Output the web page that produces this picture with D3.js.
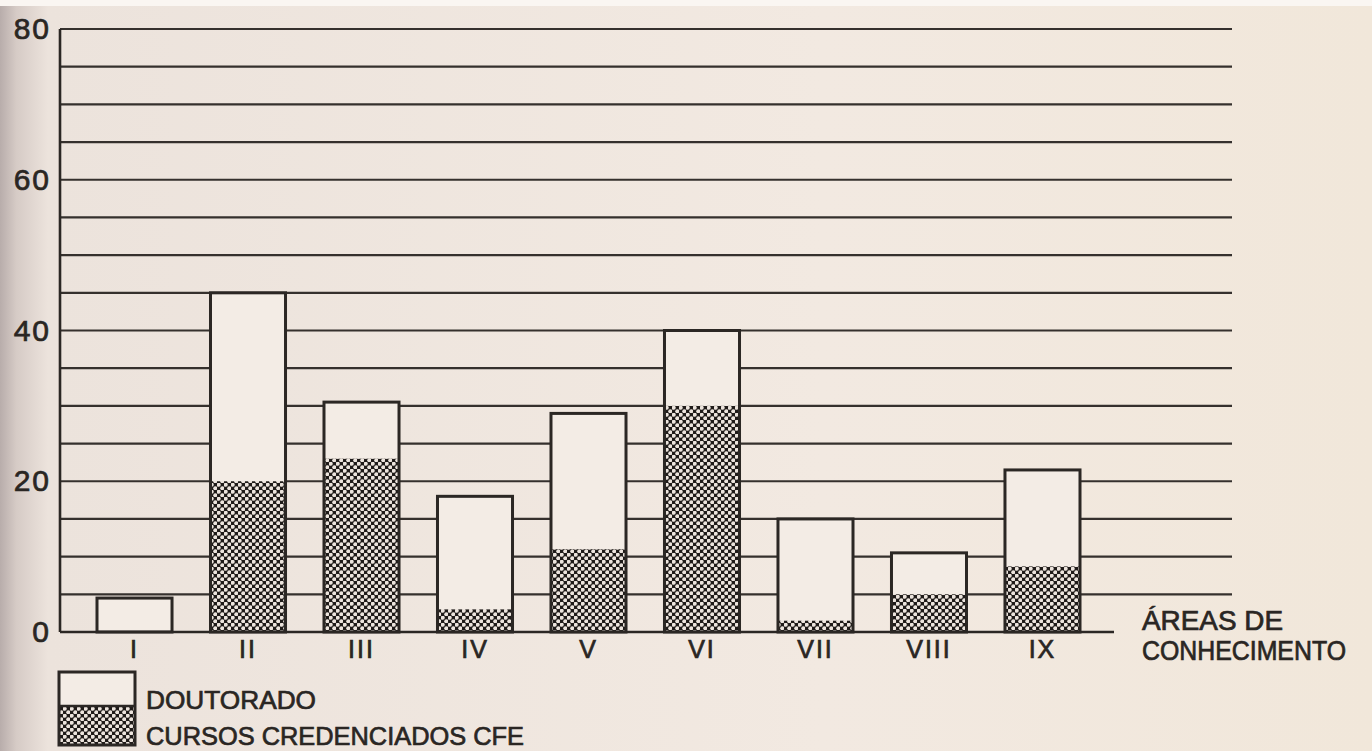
<!DOCTYPE html>
<html><head><meta charset="utf-8">
<script src="https://cdn.jsdelivr.net/npm/d3@7"></script>
<style>
html,body{margin:0;padding:0;background:#f1e8df;}
svg{display:block;}
text{font-family:"Liberation Sans",Arial,sans-serif;fill:#2a2623;stroke:#2a2623;stroke-width:0.7px;}
</style></head>
<body>
<svg id="chart" width="1372" height="751"></svg>
<script>
// ---- data ----
const categories = ["I","II","III","IV","V","VI","VII","VIII","IX"];
const doutorado = [4.5, 45, 30.5, 18, 29, 40, 15, 10.5, 21.5];
const credenciados = [0, 20, 23, 3, 11, 30, 1.5, 5, 8.7];
const yTickLabels = [0, 20, 40, 60, 80];
const gridValues = d3.range(5, 85, 5);
const legendLabels = ["DOUTORADO", "CURSOS CREDENCIADOS CFE"];
const axisTitle = ["ÁREAS DE", "CONHECIMENTO"];

const svg = d3.select("#chart");
const W = 1372, H = 751;
const ink = "#2b2724";

// paper background with left shadow
const defs = svg.append("defs");
const g1 = defs.append("linearGradient").attr("id","shade").attr("x1","0").attr("x2","1").attr("y1","0").attr("y2","0");
g1.append("stop").attr("offset","0").attr("stop-color","#b8adab");
g1.append("stop").attr("offset","0.012").attr("stop-color","#d6cbc6");
g1.append("stop").attr("offset","0.035").attr("stop-color","#ece3dc");
g1.append("stop").attr("offset","0.6").attr("stop-color","#f2e9e1");
g1.append("stop").attr("offset","1").attr("stop-color","#f1e7da");
svg.append("rect").attr("width",W).attr("height",H).attr("fill","url(#shade)");
svg.append("rect").attr("width",W).attr("height",6).attr("fill","#faf6f2");

// halftone pattern: white dots on black
const P = 7;
const pat = defs.append("pattern").attr("id","dots").attr("patternUnits","userSpaceOnUse")
  .attr("width",P).attr("height",P);
pat.append("rect").attr("width",P).attr("height",P).attr("fill","#1f1b19");
pat.append("circle").attr("cx",P/4).attr("cy",P/4).attr("r",2.0).attr("fill","#ece4dd");
pat.append("circle").attr("cx",3*P/4).attr("cy",3*P/4).attr("r",2.0).attr("fill","#ece4dd");

// scales
const x0 = 60;
const x = d3.scaleBand().domain(categories).range([x0, 1117]).paddingInner(0.339).paddingOuter(0.326);
const y = d3.scaleLinear().domain([0, 80]).range([632, 29]);

// gridlines
svg.append("g").selectAll("line").data(gridValues).join("line")
  .attr("x1", x0).attr("x2", 1232)
  .attr("y1", d => y(d)).attr("y2", d => y(d))
  .attr("stroke", "#35302d").attr("stroke-width", 2.2);

// bars: total (doutorado) white with outline, credenciados patterned
const bars = svg.append("g");
bars.selectAll("rect.tot").data(categories).join("rect").attr("class","tot")
  .attr("x", d => x(d)).attr("width", x.bandwidth())
  .attr("y", (d,i) => y(doutorado[i])).attr("height", (d,i) => y(0) - y(doutorado[i]))
  .attr("fill", "#f3ece5");
bars.selectAll("rect.cred").data(categories).join("rect").attr("class","cred")
  .attr("x", d => x(d)).attr("width", x.bandwidth())
  .attr("y", (d,i) => y(credenciados[i])).attr("height", (d,i) => y(0) - y(credenciados[i]))
  .attr("fill", "url(#dots)");
bars.selectAll("rect.out").data(categories).join("rect").attr("class","out")
  .attr("x", d => x(d)).attr("width", x.bandwidth())
  .attr("y", (d,i) => y(doutorado[i])).attr("height", (d,i) => y(0) - y(doutorado[i]))
  .attr("fill", "none").attr("stroke", ink).attr("stroke-width", 3);

// baseline and y axis line
svg.append("line").attr("x1", x0).attr("x2", 1114).attr("y1", y(0)).attr("y2", y(0))
  .attr("stroke", ink).attr("stroke-width", 2.6);
svg.append("line").attr("x1", x0).attr("x2", x0).attr("y1", y(80)).attr("y2", y(0))
  .attr("stroke", ink).attr("stroke-width", 2.6);

// y tick labels via axis
const yAxis = d3.axisLeft(y).tickValues(yTickLabels).tickSize(0).tickPadding(9);
const ya = svg.append("g").attr("transform", `translate(${x0},0)`).call(yAxis);
ya.select(".domain").remove();
ya.selectAll("text").attr("font-size", 30).attr("letter-spacing", 2)
  .attr("font-family", '"Liberation Sans",Arial,sans-serif').attr("fill", ink)
  .attr("stroke", ink).attr("stroke-width", 0.8);

// x tick labels via axis
const xAxis = d3.axisBottom(x).tickSize(0).tickPadding(8);
const xa = svg.append("g").attr("transform", `translate(0,${y(0)})`).call(xAxis);
xa.select(".domain").remove();
xa.selectAll("text").attr("font-size", 25).attr("letter-spacing", 2)
  .attr("font-family", '"Liberation Sans",Arial,sans-serif').attr("fill", ink)
  .attr("stroke", ink).attr("stroke-width", 0.8);

// axis title
svg.append("text").attr("x", 1142).attr("y", 630).attr("font-size", 27)
  .attr("textLength", 141).attr("lengthAdjust", "spacingAndGlyphs").text(axisTitle[0]);
svg.append("text").attr("x", 1142).attr("y", 660).attr("font-size", 27)
  .attr("textLength", 204).attr("lengthAdjust", "spacingAndGlyphs").text(axisTitle[1]);

// legend
const lg = svg.append("g");
lg.append("rect").attr("x", 59).attr("y", 672).attr("width", 76).attr("height", 34).attr("fill", "#f3ece5");
lg.append("rect").attr("x", 59).attr("y", 706).attr("width", 76).attr("height", 39).attr("fill", "url(#dots)");
lg.append("rect").attr("x", 59).attr("y", 672).attr("width", 76).attr("height", 73)
  .attr("fill", "none").attr("stroke", ink).attr("stroke-width", 3);
lg.append("line").attr("x1", 59).attr("x2", 135).attr("y1", 706).attr("y2", 706).attr("stroke", ink).attr("stroke-width", 2.5);
lg.append("text").attr("x", 146).attr("y", 709).attr("font-size", 26)
  .attr("textLength", 170).attr("lengthAdjust", "spacingAndGlyphs").text(legendLabels[0]);
lg.append("text").attr("x", 146).attr("y", 745).attr("font-size", 26)
  .attr("textLength", 378).attr("lengthAdjust", "spacingAndGlyphs").text(legendLabels[1]);
</script>
</body></html>
